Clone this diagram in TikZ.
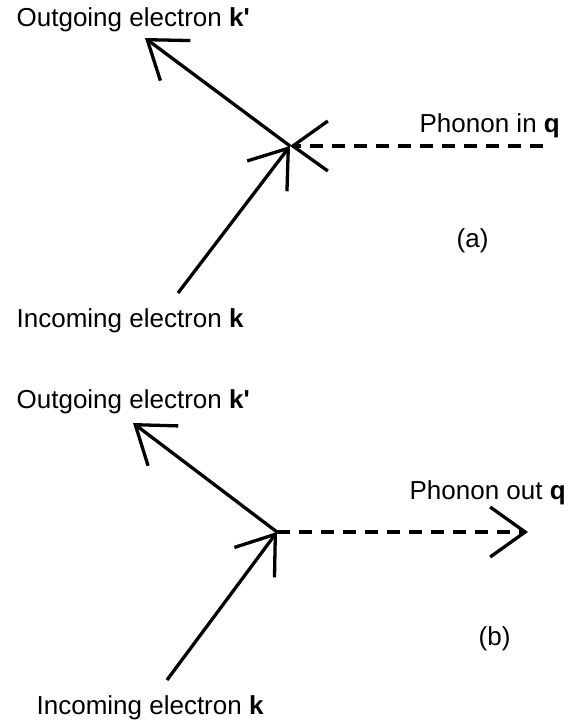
\documentclass[tikz,border=0pt]{standalone}
\usepackage{fontspec}
\setmainfont{Liberation Sans}
\usetikzlibrary{arrows.meta}
\begin{document}
\begin{tikzpicture}[x=1pt,y=-1pt,
  line width=3.3pt,
  >={Straight Barb[length=35pt,width=50pt]},
  elec/.style={draw=black},
  phon/.style={draw=black,dash pattern=on 13pt off 9pt},
  lbl/.style={anchor=base west,inner sep=0pt,font=\fontsize{26}{31}\selectfont}]
  \useasboundingbox (0,0) rectangle (569,720);

  % (a) phonon absorption
  \coordinate (va) at (290,146);
  \coordinate (outa) at (145,38);
  \coordinate (ina) at (178,293);
  \coordinate (pha) at (543,146);
  \draw[elec,->] (ina) -- (va);
  \draw[elec,->] (va) -- (outa);
  \draw[phon,->] (pha) -- (va);
  \node[lbl] (la1) at (15,27) {Outgoing electron \textbf{k\textquotesingle}};
  \node[lbl] (la2) at (418,132) {Phonon in \textbf{q}};
  \node[lbl] (la3) at (455,247) {(a)};
  \node[lbl] (la4) at (15,327) {Incoming electron \textbf{k}};

  % (b) phonon emission
  \coordinate (vb) at (277,532);
  \coordinate (outb) at (133,423);
  \coordinate (inb) at (167,680);
  \coordinate (phb) at (528,532);
  \draw[elec,->] (inb) -- (vb);
  \draw[elec,->] (vb) -- (outb);
  \draw[phon,->] (vb) -- (phb);
  \node[lbl] (lb1) at (15,408) {Outgoing electron \textbf{k\textquotesingle}};
  \node[lbl] (lb2) at (408,499) {Phonon out \textbf{q}};
  \node[lbl] (lb3) at (477,645) {(b)};
  \node[lbl] (lb4) at (35,714) {Incoming electron \textbf{k}};
\end{tikzpicture}
\end{document}
